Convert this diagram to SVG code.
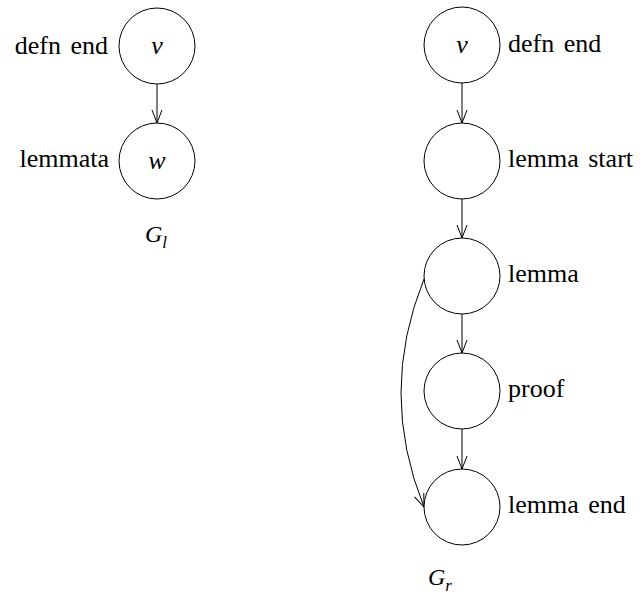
<svg xmlns="http://www.w3.org/2000/svg" width="642" height="597" viewBox="0 0 642 597">
  <defs>
    <marker id="arrow" markerUnits="userSpaceOnUse" markerWidth="16" markerHeight="12" refX="13" refY="5" orient="auto" overflow="visible">
      <path d="M0,0 L13,5 L0,10" fill="none" stroke="#000" stroke-width="1"/>
    </marker>
  </defs>
  <style>
    .node { fill: #fff; stroke: #000; stroke-width: 1; }
    .edge { fill: none; stroke: #000; stroke-width: 1; marker-end: url(#arrow); }
    text { fill: #000; font-size: 26px; word-spacing: 3px; font-family: "Times New Roman", "Liberation Serif", "DejaVu Serif", serif; }
    .math { font-style: italic; }
    .title { font-size: 24px; }
    .sub { font-size: 17px; }
  </style>
  <rect width="642" height="597" fill="#fff"/>

  <!-- connectors -->
  <g id="edges">
    <path class="edge" d="M157,84 L157,123"/>
    <path class="edge" d="M462,83 L462,123"/>
    <path class="edge" d="M462,199 L462,238"/>
    <path class="edge" d="M462,314 L462,353"/>
    <path class="edge" d="M462,429 L462,469"/>
    <path class="edge" d="M424,279 Q378,393 424,507"/>
  </g>

  <!-- left graph -->
  <g id="gl-v">
    <circle class="node" cx="157" cy="46" r="38"/>
    <text class="math" x="157" y="54" text-anchor="middle">v</text>
    <text x="108" y="54" text-anchor="end">defn end</text>
  </g>
  <g id="gl-w">
    <circle class="node" cx="157" cy="161" r="38"/>
    <text class="math" x="157" y="169" text-anchor="middle">w</text>
    <text x="109" y="167" text-anchor="end">lemmata</text>
  </g>
  <g id="gl-title">
    <text class="math title" x="145" y="242">G<tspan class="sub" dy="6">l</tspan></text>
  </g>

  <!-- right graph -->
  <g id="gr-v">
    <circle class="node" cx="462" cy="45" r="38"/>
    <text class="math" x="462" y="53" text-anchor="middle">v</text>
    <text x="508" y="52">defn end</text>
  </g>
  <g id="gr-start">
    <circle class="node" cx="462" cy="161" r="38"/>
    <text x="508" y="167">lemma start</text>
  </g>
  <g id="gr-lemma">
    <circle class="node" cx="462" cy="276" r="38"/>
    <text x="508" y="282">lemma</text>
  </g>
  <g id="gr-proof">
    <circle class="node" cx="462" cy="391" r="38"/>
    <text x="508" y="397">proof</text>
  </g>
  <g id="gr-end">
    <circle class="node" cx="462" cy="507" r="38"/>
    <text x="508" y="513">lemma end</text>
  </g>
  <g id="gr-title">
    <text class="math title" x="428" y="585">G<tspan class="sub" dy="6">r</tspan></text>
  </g>
</svg>
